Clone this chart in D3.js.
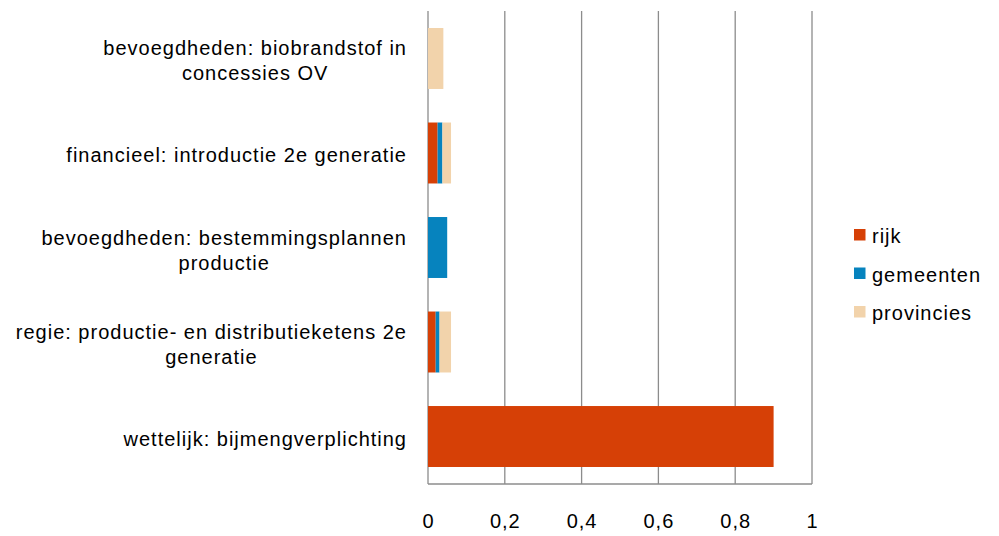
<!DOCTYPE html>
<html>
<head>
<meta charset="utf-8">
<script src="https://cdn.jsdelivr.net/npm/d3@7"></script>
<style>
  body { margin: 0; background: #fff; }
  svg text { font-family: "Liberation Sans", Arial, sans-serif; font-size: 20px; fill: #000; letter-spacing: 1px; }
</style>
</head>
<body>
<svg id="chart" width="999" height="536"></svg>
<script>
// categories, top to bottom (each entry = lines of the wrapped label)
const categories = [
  ["bevoegdheden: biobrandstof in", "concessies OV"],
  ["financieel: introductie 2e generatie"],
  ["bevoegdheden: bestemmingsplannen", "productie"],
  ["regie: productie- en distributieketens 2e", "generatie"],
  ["wettelijk: bijmengverplichting"]
];
const seriesNames = ["rijk", "gemeenten", "provincies"];
const rijk = [0, 0.025, 0, 0.02, 0.9];
const gemeenten = [0, 0.0125, 0.05, 0.01, 0];
const provincies = [0.04, 0.0225, 0, 0.03, 0];
const xTicks = [0, 0.2, 0.4, 0.6, 0.8, 1];
const colors = ["#d64006", "#0683be", "#f2d3ab"];

const svg = d3.select('#chart');
const plotLeft = 428, plotRight = 812, plotTop = 11, plotBottom = 484;

// table for the stack
const rows = categories.map((c, i) => ({
  key: i, rijk: rijk[i], gemeenten: gemeenten[i], provincies: provincies[i]
}));
const stacked = d3.stack().keys(seriesNames)(rows);

const xScale = d3.scaleLinear().domain([0, 1]).range([plotLeft, plotRight]);
const yScale = d3.scaleBand()
  .domain(categories.map((c, i) => i))
  .range([plotTop, plotBottom])
  .paddingInner(0.355)
  .paddingOuter(0.18);

const nl = d3.formatLocale({ decimal: ",", thousands: ".", grouping: [3], currency: ["€", ""] });
const fmt = nl.format("~g");

// gridlines
svg.append('g')
  .selectAll('line')
  .data(xTicks)
  .enter()
  .append('line')
  .attr('x1', d => xScale(d))
  .attr('x2', d => xScale(d))
  .attr('y1', plotTop)
  .attr('y2', plotBottom)
  .attr('stroke', '#8c8c8c')
  .attr('stroke-width', 1.3);

// bottom axis line
svg.append('line')
  .attr('x1', plotLeft).attr('x2', plotRight)
  .attr('y1', plotBottom).attr('y2', plotBottom)
  .attr('stroke', '#8c8c8c')
  .attr('stroke-width', 1.3);

// bars
svg.append('g')
  .selectAll('g')
  .data(stacked)
  .enter()
  .append('g')
  .attr('fill', (d, i) => colors[i])
  .selectAll('rect')
  .data(d => d)
  .enter()
  .append('rect')
  .attr('x', d => xScale(d[0]))
  .attr('y', d => yScale(d.data.key))
  .attr('width', d => xScale(d[1]) - xScale(d[0]))
  .attr('height', yScale.bandwidth());

// x tick labels
const xAxis = d3.axisBottom(xScale).tickValues(xTicks).tickFormat(fmt).tickSize(0).tickPadding(30);
const gx = svg.append('g')
  .attr('transform', `translate(0, ${plotBottom})`)
  .call(xAxis);
gx.select('.domain').remove();
gx.attr('font-size', null).attr('font-family', null);
gx.selectAll('text')
  .attr('fill', null)
  .attr('dy', null)
  .attr('y', 44);

// category labels: right aligned block, lines centered within it
const labelRight = 407;
const lineGap = 25;
categories.forEach((lines, i) => {
  const cy = yScale(i) + yScale.bandwidth() / 2 + 9.5;
  const g = svg.append('g');
  const texts = lines.map((ln, j) => g.append('text')
    .attr('y', cy + (j - (lines.length - 1) / 2) * lineGap)
    .attr('text-anchor', 'middle')
    .text(ln));
  const maxW = d3.max(texts, t => t.node().getComputedTextLength());
  texts.forEach(t => t.attr('x', labelRight - maxW / 2));
});

// legend
const legend = svg.append('g').attr('transform', 'translate(854, 229)');
seriesNames.forEach((name, i) => {
  const row = legend.append('g').attr('transform', `translate(0, ${i * 38.5})`);
  row.append('rect').attr('width', 11.5).attr('height', 11.5).attr('fill', colors[i]);
  row.append('text').attr('x', 18).attr('y', 14).text(name);
});
</script>
</body>
</html>
